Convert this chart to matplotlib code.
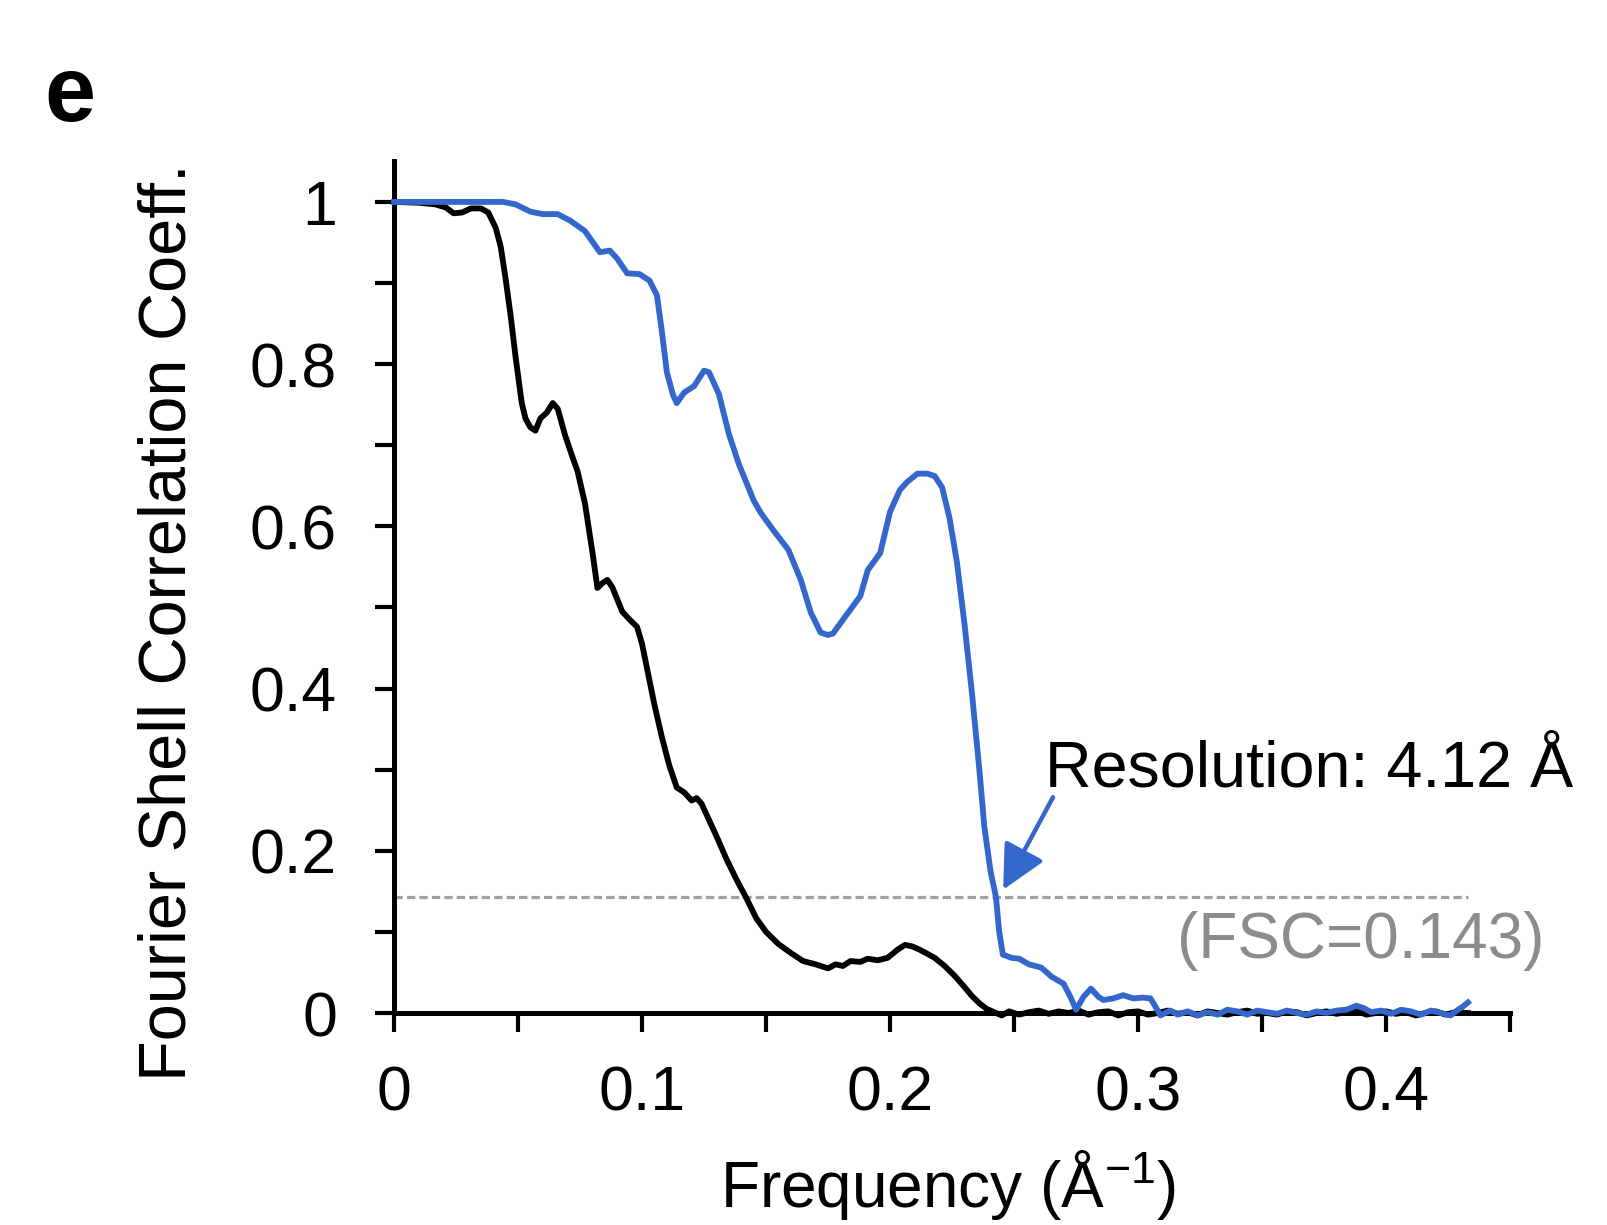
import matplotlib
matplotlib.use("Agg")
import matplotlib.pyplot as plt
import numpy as np

plt.rcParams['font.family'] = ['Liberation Sans', 'DejaVu Sans']
plt.rcParams['mathtext.fontset'] = 'custom'
plt.rcParams['mathtext.rm'] = 'Liberation Sans'
plt.rcParams['mathtext.default'] = 'regular'

# Fourier shell correlation curves (frequency in 1/Å)
blue_x = [0.000, 0.044, 0.049, 0.055, 0.060, 0.066, 0.071, 0.077, 0.083, 0.087,
          0.090, 0.094, 0.099, 0.103, 0.106, 0.108, 0.110, 0.1125, 0.114, 0.117,
          0.121, 0.125, 0.127, 0.131, 0.135, 0.139, 0.145, 0.148, 0.153, 0.159,
          0.164, 0.168, 0.172, 0.175, 0.177, 0.182, 0.188, 0.191, 0.196, 0.200,
          0.204, 0.207, 0.211, 0.215, 0.218, 0.221, 0.224, 0.227, 0.230, 0.233,
          0.236, 0.238, 0.2405, 0.2427, 0.2440, 0.2455, 0.249, 0.252, 0.256, 0.261,
          0.265, 0.270, 0.273, 0.275, 0.278, 0.281, 0.284, 0.286, 0.290, 0.294,
          0.298, 0.302, 0.305, 0.307, 0.309, 0.313, 0.316, 0.320, 0.324, 0.328,
          0.332, 0.336, 0.340, 0.344, 0.348, 0.352, 0.356, 0.360, 0.364, 0.368,
          0.372, 0.376, 0.380, 0.384, 0.388, 0.391, 0.394, 0.398, 0.402, 0.406,
          0.410, 0.414, 0.418, 0.422, 0.426, 0.429, 0.431, 0.433]
blue_y = [1.000, 1.000, 0.997, 0.988, 0.985, 0.985, 0.977, 0.964, 0.938, 0.940,
          0.930, 0.912, 0.911, 0.903, 0.885, 0.840, 0.790, 0.762, 0.752, 0.765,
          0.773, 0.792, 0.790, 0.763, 0.714, 0.677, 0.632, 0.616, 0.595, 0.571,
          0.534, 0.494, 0.469, 0.466, 0.468, 0.489, 0.514, 0.546, 0.567, 0.618,
          0.645, 0.655, 0.665, 0.665, 0.662, 0.648, 0.610, 0.555, 0.480, 0.395,
          0.300, 0.230, 0.175, 0.143, 0.100, 0.072, 0.068, 0.067, 0.060, 0.056,
          0.045, 0.036, 0.018, 0.004, 0.020, 0.030, 0.020, 0.016, 0.018, 0.022,
          0.018, 0.019, 0.018, 0.008, -0.003, 0.003, -0.002, 0.002, -0.003, 0.001,
          -0.002, 0.004, 0.002, -0.002, 0.003, 0.001, -0.001, 0.003, 0.000, -0.002,
          0.002, 0.000, 0.003, 0.004, 0.009, 0.006, 0.001, 0.003, -0.001, 0.004,
          0.002, -0.002, 0.003, 0.000, -0.003, 0.004, 0.008, 0.013]

black_x = [0.000, 0.010, 0.0167, 0.021, 0.024, 0.0275, 0.031, 0.035, 0.038, 0.041,
           0.043, 0.045, 0.047, 0.049, 0.0515, 0.053, 0.055, 0.057, 0.059, 0.0615,
           0.064, 0.066, 0.069, 0.072, 0.074, 0.077, 0.080, 0.082, 0.084, 0.086,
           0.088, 0.092, 0.095, 0.098, 0.100, 0.102, 0.105, 0.108, 0.111, 0.114,
           0.117, 0.120, 0.122, 0.124, 0.127, 0.130, 0.134, 0.138, 0.142, 0.146,
           0.150, 0.155, 0.160, 0.165, 0.170, 0.175, 0.178, 0.181, 0.184, 0.188,
           0.191, 0.195, 0.199, 0.203, 0.206, 0.209, 0.212, 0.215, 0.218, 0.222,
           0.226, 0.230, 0.233, 0.236, 0.239, 0.242, 0.245, 0.248, 0.252, 0.256,
           0.260, 0.264, 0.268, 0.272, 0.276, 0.280, 0.284, 0.288, 0.292, 0.296,
           0.300, 0.304, 0.308, 0.312, 0.316, 0.320, 0.324, 0.328, 0.332, 0.336,
           0.340, 0.344, 0.348, 0.352, 0.356, 0.360, 0.364, 0.368, 0.372, 0.376,
           0.380, 0.384, 0.388, 0.392, 0.396, 0.400, 0.404, 0.408, 0.412, 0.416,
           0.420, 0.424, 0.428, 0.433]
black_y = [1.000, 0.999, 0.997, 0.993, 0.986, 0.987, 0.992, 0.992, 0.987, 0.968,
           0.945, 0.905, 0.860, 0.809, 0.752, 0.733, 0.722, 0.718, 0.733, 0.740,
           0.752, 0.745, 0.712, 0.685, 0.668, 0.628, 0.568, 0.524, 0.530, 0.534,
           0.525, 0.495, 0.485, 0.476, 0.455, 0.425, 0.380, 0.340, 0.305, 0.278,
           0.272, 0.262, 0.265, 0.258, 0.238, 0.218, 0.190, 0.165, 0.142, 0.117,
           0.100, 0.085, 0.074, 0.064, 0.060, 0.055, 0.060, 0.058, 0.064, 0.063,
           0.067, 0.065, 0.068, 0.078, 0.084, 0.082, 0.078, 0.073, 0.068, 0.058,
           0.046, 0.032, 0.021, 0.012, 0.005, 0.001, -0.003, 0.002, -0.002, 0.001,
           0.003, -0.001, 0.002, 0.000, 0.003, -0.002, 0.001, 0.002, -0.003, 0.001,
           0.002, -0.002, 0.000, 0.003, -0.001, 0.001, -0.003, 0.002, 0.000, -0.002,
           0.001, 0.003, -0.001, 0.000, -0.002, 0.002, 0.001, -0.003, 0.000, 0.002,
           -0.001, 0.001, 0.003, -0.002, 0.000, 0.002, -0.001, 0.001, -0.003, 0.000,
           0.002, -0.002, 0.001, 0.000]

threshold = 0.143
resolution_A = 4.12

x_ticks = [0.00, 0.05, 0.10, 0.15, 0.20, 0.25, 0.30, 0.35, 0.40, 0.45]
x_labels = ['0', '', '0.1', '', '0.2', '', '0.3', '', '0.4', '']
y_ticks = [0.0, 0.1, 0.2, 0.3, 0.4, 0.5, 0.6, 0.7, 0.8, 0.9, 1.0]
y_labels = ['0', '', '0.2', '', '0.4', '', '0.6', '', '0.8', '', '1']

BLUE = '#3467CC'
GREY_LINE = '#A0A0A0'
GREY_TEXT = '#8C8C8C'

fig = plt.figure(figsize=(16.07, 12.25), dpi=100)
ax = fig.add_axes([0.2452, 0.17306, 0.6945, 0.6952])

ax.plot([0, 0.433], [threshold, threshold], color=GREY_LINE, lw=2.3,
        dashes=(2.6, 1.3), zorder=1)
ax.plot(black_x, black_y, color='black', lw=4.2, zorder=2, clip_on=False,
        solid_joinstyle='round')
ax.plot(blue_x, blue_y, color=BLUE, lw=4.2, zorder=3, clip_on=False,
        solid_joinstyle='round')

ax.set_xlim(0, 0.45)
ax.set_ylim(0, 1.05)
ax.set_xticks(x_ticks)
ax.set_xticklabels(x_labels)
ax.set_yticks(y_ticks)
ax.set_yticklabels(y_labels)

for side in ('top', 'right'):
    ax.spines[side].set_visible(False)
for side in ('left', 'bottom'):
    ax.spines[side].set_linewidth(3.6)
ax.tick_params(axis='both', direction='out', length=14, width=3.0,
               labelsize=45)
ax.tick_params(axis='y', pad=27)
ax.tick_params(axis='x', pad=23)

# Resolution annotation with arrow to the threshold crossing
ax.text(0.2625, 0.2787, 'Resolution: %.2f Å' % resolution_A, fontsize=46.5,
        ha='left', va='baseline', color='black')
ax.annotate('', xy=(0.2456, 0.152), xytext=(0.2657, 0.266),
            arrowprops=dict(arrowstyle='-|>', color=BLUE, lw=3.2,
                            mutation_scale=68, shrinkA=0, shrinkB=0))
ax.text(0.3157, 0.068, '(FSC=%.3f)' % threshold, fontsize=46,
        ha='left', va='baseline', color=GREY_TEXT)

fig.text(169 / 1607, 1 - 622 / 1225, 'Fourier Shell Correlation Coeff.',
         rotation=90, ha='center', va='center', fontsize=48)
fig.text(948 / 1607, 1 - 1207 / 1225, 'Frequency (Å$^{−1}$)',
         ha='center', va='baseline', fontsize=46)
fig.text(70 / 1607, 1 - 97 / 1225, 'e', ha='center', va='center',
         fontsize=66, fontweight='bold')

fig.savefig('out.png', dpi=100, facecolor='white')
